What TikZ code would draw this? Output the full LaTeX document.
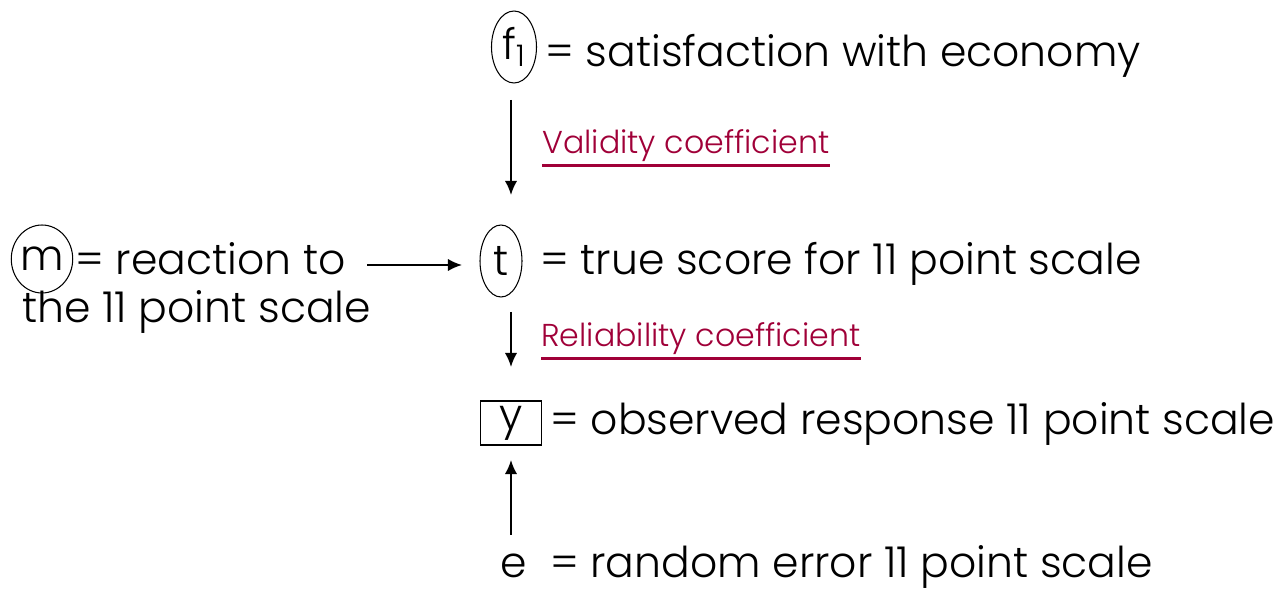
\documentclass[tikz,border=0pt]{standalone}
\usepackage{fontspec}
\setmainfont{Poppins}[UprightFont=* Light]
\usetikzlibrary{arrows.meta,positioning,shapes.geometric}
\definecolor{coefred}{RGB}{160,0,56}
\tikzset{
  latent/.style={draw,ellipse,semithick,inner sep=0pt,font=\fontsize{24.2}{29}\selectfont},
  observed/.style={draw,rectangle,semithick,inner sep=0pt,minimum width=1.22cm,minimum height=0.88cm,font=\fontsize{24.2}{29}\selectfont},
  eqtext/.style={anchor=base west,inner sep=0pt,font=\fontsize{24.2}{29}\selectfont},
  coeflabel/.style={anchor=base west,inner sep=0pt,text=coefred,font=\fontsize{18}{22}\selectfont},
  path/.style={-{Latex[length=8pt,width=7pt]},line width=1pt}
}
\begin{document}
\begin{tikzpicture}[x=0.02cm,y=-0.02cm]
  \useasboundingbox (0,0) rectangle (1276,594);
  % factor, true score, method, observed and error
  \node[latent,minimum width=0.9cm,minimum height=1.44cm] (f1) at (514,47) {f\textsubscript{1}};
  \node[eqtext] (f1txt) at (545,67) {= satisfaction with economy};
  \node[latent,minimum width=0.84cm,minimum height=1.44cm] (t) at (501,261) {t};
  \node[eqtext] (ttxt) at (540,275) {= true score for 11 point scale};
  \node[latent,minimum width=1.16cm,minimum height=1.36cm] (m) at (42,259) {m};
  \node[eqtext] (mtxt) at (75,275) {= reaction to};
  \node[eqtext] (mtxt2) at (22,323) {the 11 point scale};
  \node[observed] (y) at (511,423) {y};
  \node[eqtext] (ytxt) at (550,435) {= observed response 11 point scale};
  \node[eqtext] (e) at (500,578) {e\ \ = random error 11 point scale};
  % coefficients
  \node[coeflabel] (val) at (542,154) {Validity coefficient};
  \node[coeflabel] (rel) at (541,347) {Reliability coefficient};
  \draw[coefred,line width=1.6pt] ([yshift=-1.5pt]val.south west) -- ([yshift=-1.5pt]val.south east);
  \draw[coefred,line width=1.6pt] ([yshift=-1.5pt]rel.south west) -- ([yshift=-1.5pt]rel.south east);
  % arrows
  \coordinate (f1out) at (511,100);
  \coordinate (tin) at (511,195);
  \coordinate (mout) at (367,265);
  \coordinate (tleft) at (462,265);
  \coordinate (tout) at (511,312);
  \coordinate (yin) at (511,367);
  \coordinate (eout) at (511,535);
  \coordinate (ybot) at (511,460);
  \draw[path] (f1out) -- (tin);
  \draw[path] (mout) -- (tleft);
  \draw[path] (tout) -- (yin);
  \draw[path] (eout) -- (ybot);
\end{tikzpicture}
\end{document}
